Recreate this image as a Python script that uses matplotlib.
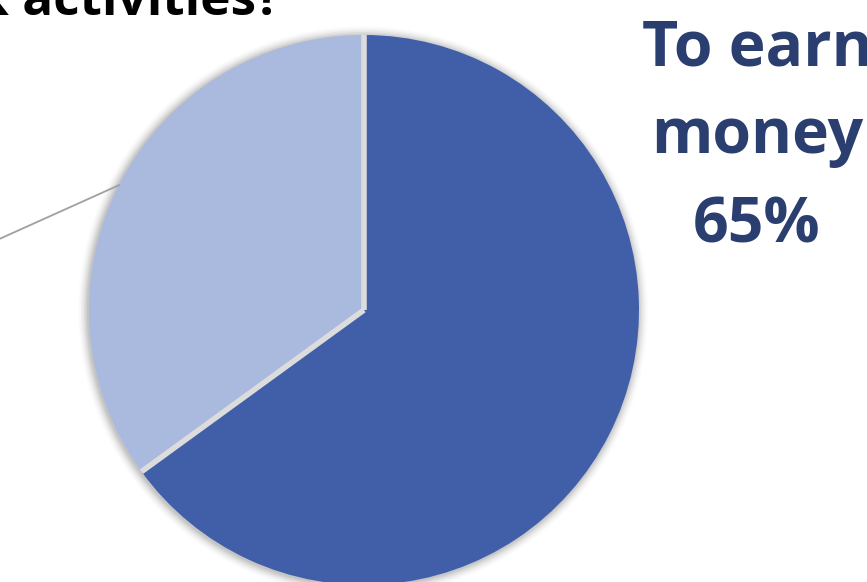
import numpy as np
import matplotlib
matplotlib.use("Agg")
import matplotlib.pyplot as plt
from matplotlib.patches import Circle

categories = ["To earn money", "Other"]
values = [65, 35]
colors = ["#415fa8", "#aab9de"]
label_color = "#2b3e70"

W, H = 867, 582
fig = plt.figure(figsize=(W / 100, H / 100), dpi=100)
ax = fig.add_axes([0, 0, 1, 1])

cx, cy, r = 364, H - 310, 275

# soft shadow
for i, a in enumerate(np.linspace(0.06, 0.01, 7)):
    ax.add_patch(Circle((cx - 1, cy - 1), r + 1 + i * 1.5, color="#000000", alpha=a, lw=0, zorder=0))

wedges, _ = ax.pie(values, colors=colors, startangle=90, counterclock=False,
                   center=(cx, cy), radius=r, frame=True,
                   wedgeprops=dict(linewidth=0))
ax.set_xlim(0, W)
ax.set_ylim(0, H)
ax.set_aspect("equal")
ax.axis("off")

# separators between slices
for wd in wedges:
    th = np.deg2rad(wd.theta1)
    ax.plot([cx, cx + r * np.cos(th)], [cy, cy + r * np.sin(th)],
            color="#dcdcdc", lw=4, solid_capstyle="butt", zorder=4)

# leader line for the second slice
w = wedges[1]
mid = np.deg2rad((w.theta1 + w.theta2) / 2)
sx, sy = cx + r * np.cos(mid), cy + r * np.sin(mid)
ax.plot([sx, sx - 120], [sy, sy - 54], color="#a0a0a0", lw=1.3, zorder=5)

fam = ["Open Sans", "DejaVu Sans"]
ax.text(757, H - 49, "To earn", ha="center", va="center", fontsize=45, fontweight="bold",
        color=label_color, family=fam)
ax.text(757, H - 137, "money", ha="center", va="center", fontsize=45, fontweight="bold",
        color=label_color, family=fam)
ax.text(757, H - 226, f"{values[0]}%", ha="center", va="center", fontsize=45, fontweight="bold",
        color=label_color, family=fam)

ax.text(281, H - 15, "k activities?", ha="right", va="baseline", fontsize=37, fontweight="bold",
        color="black", family=fam)

fig.savefig("out.png", dpi=100)
